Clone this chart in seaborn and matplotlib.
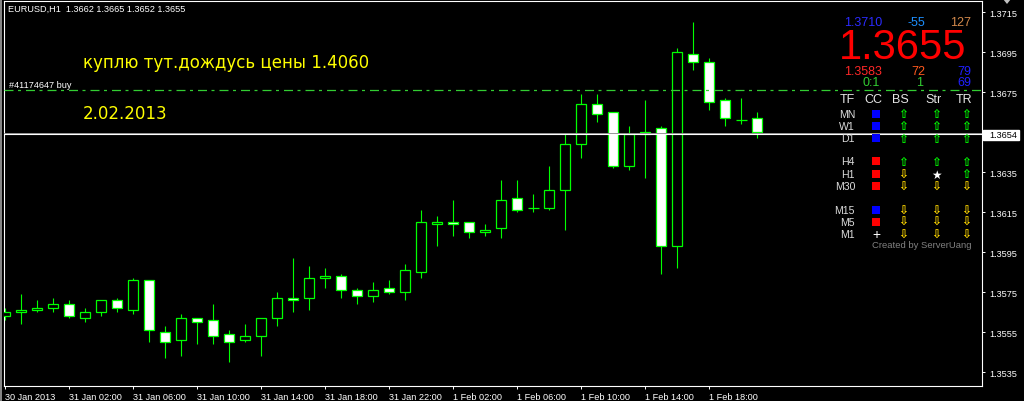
import numpy as np
import pandas as pd
import matplotlib.pyplot as plt
import seaborn as sns
from matplotlib.patches import Rectangle, Polygon

W, H = 1024, 402

# EURUSD H1, бары с 30 Jan 22:00 по 1 Feb 21:00
opens  = [1.3563, 1.3565, 1.3566, 1.3567, 1.3569, 1.3562, 1.3565, 1.3571, 1.3566, 1.3581,
          1.3555, 1.3551, 1.3562, 1.3561, 1.3554, 1.3551, 1.3553, 1.3562, 1.3572, 1.3572,
          1.3582, 1.3583, 1.3576, 1.3573, 1.3577, 1.3575, 1.3585, 1.3609, 1.3610, 1.3610,
          1.3605, 1.3607, 1.3622, 1.3617, 1.3617, 1.3626, 1.3649, 1.3669, 1.3665, 1.3638,
          1.3654, 1.3657, 1.3598, 1.3694, 1.3690, 1.3671, 1.3661, 1.3662]
highs  = [1.3567, 1.3574, 1.3571, 1.3572, 1.3571, 1.3567, 1.3571, 1.3572, 1.3582, 1.3581,
          1.3558, 1.3564, 1.3562, 1.3569, 1.3556, 1.3559, 1.3562, 1.3575, 1.3592, 1.3588,
          1.3587, 1.3584, 1.3577, 1.3580, 1.3581, 1.3589, 1.3616, 1.3613, 1.3621, 1.3610,
          1.3609, 1.3631, 1.3631, 1.3624, 1.3638, 1.3654, 1.3674, 1.3674, 1.3665, 1.3658,
          1.3671, 1.3658, 1.3697, 1.3710, 1.3692, 1.3672, 1.3672, 1.3665]
lows   = [1.3561, 1.3559, 1.3565, 1.3565, 1.3562, 1.3560, 1.3563, 1.3565, 1.3564, 1.3550,
          1.3542, 1.3543, 1.3549, 1.3549, 1.3540, 1.3550, 1.3543, 1.3558, 1.3565, 1.3566,
          1.3577, 1.3572, 1.3569, 1.3570, 1.3574, 1.3571, 1.3582, 1.3598, 1.3603, 1.3602,
          1.3603, 1.3602, 1.3615, 1.3615, 1.3616, 1.3606, 1.3642, 1.3660, 1.3637, 1.3636,
          1.3632, 1.3584, 1.3587, 1.3686, 1.3666, 1.3658, 1.3659, 1.3652]
closes = [1.3565, 1.3566, 1.3567, 1.3569, 1.3563, 1.3565, 1.3571, 1.3567, 1.3581, 1.3556,
          1.3550, 1.3562, 1.3560, 1.3553, 1.3550, 1.3553, 1.3562, 1.3572, 1.3571, 1.3582,
          1.3583, 1.3576, 1.3573, 1.3576, 1.3575, 1.3586, 1.3610, 1.3610, 1.3609, 1.3605,
          1.3606, 1.3621, 1.3616, 1.3617, 1.3626, 1.3649, 1.3669, 1.3664, 1.3638, 1.3654,
          1.3655, 1.3598, 1.3695, 1.3690, 1.3670, 1.3662, 1.3661, 1.3655]

time_labels = ["30 Jan 2013", "31 Jan 02:00", "31 Jan 06:00", "31 Jan 10:00",
               "31 Jan 14:00", "31 Jan 18:00", "31 Jan 22:00", "1 Feb 02:00",
               "1 Feb 06:00", "1 Feb 10:00", "1 Feb 14:00", "1 Feb 18:00"]
price_ticks = [1.3535, 1.3555, 1.3575, 1.3595, 1.3615, 1.3635, 1.3675, 1.3695, 1.3715]
order_price = 1.36763
bid_price = 1.36542

# панель индикатора
tf_names  = ["MN", "W1", "D1", "H4", "H1", "M30", "M15", "M5", "M1"]
cc_state  = ["blue", "blue", "blue", "red", "red", "red", "blue", "red", "flat"]
bs_state  = ["up", "up", "up", "up", "down", "down", "down", "down", "down"]
str_state = ["up", "up", "up", "up", "star", "down", "down", "down", "down"]
tr_state  = ["up", "up", "up", "up", "up", "down", "down", "down", "down"]

GREEN = "#00FF00"
YELLOW = "#FFFF00"

sns.set_theme(style="dark", rc={"axes.facecolor": "black", "figure.facecolor": "black",
                                "axes.edgecolor": "white", "xtick.color": "white",
                                "ytick.color": "white", "axes.grid": False})
plt.rcParams["font.family"] = ["Liberation Sans", "DejaVu Sans"]

df = pd.DataFrame({"o": opens, "h": highs, "l": lows, "c": closes})
df["x"] = np.arange(len(df))
df["bear"] = df["c"] < df["o"]

fig = plt.figure(figsize=(W / 100, H / 100), dpi=100)
ax = fig.add_axes([4 / W, 1 - 387 / H, 978 / W, 385 / H])
ax.set_facecolor("black")

# свечи
ax.vlines(df["x"], df["l"], df["h"], color=GREEN, lw=0.8, zorder=2)
body = df[df["o"] != df["c"]]
ax.bar(body["x"], (body["c"] - body["o"]).abs(), bottom=body[["o", "c"]].min(axis=1),
       width=0.62, color=np.where(body["bear"], "white", "black"),
       edgecolor=GREEN, lw=0.9, zorder=3)
doji = df[df["o"] == df["c"]]
ax.hlines(doji["o"], doji["x"] - 0.33, doji["x"] + 0.33, color=GREEN, lw=0.9, zorder=3)

# линии ордера и bid
ax.axhline(order_price, color="#32CD32", lw=0.9, dashes=(7.2, 3.6, 2.4, 4.0), zorder=4)
ax.axhline(bid_price + 0.00005, color="#909090", lw=0.7, zorder=4)
ax.axhline(bid_price, color="white", lw=0.8, zorder=4)

ax.set_xlim(-0.08, 61.04)
ax.set_ylim(1.35282, 1.37207)
for s in ax.spines.values():
    s.set_color("white")
    s.set_linewidth(0.8)

ax.yaxis.tick_right()
ax.set_yticks(price_ticks)
ax.set_yticklabels([f"{v:.4f}" for v in price_ticks])
ax.tick_params(axis="y", right=True, direction="out", length=2.5, width=0.7,
               pad=3, labelsize=6.6, labelcolor="white")
ax.set_xticks(df["x"][::4])
ax.set_xticklabels(time_labels, ha="left")
ax.tick_params(axis="x", bottom=True, direction="out", length=2.5, width=0.7,
               pad=1.5, labelsize=6.6, labelcolor="white")


def ftext(x, y, s, **kw):
    kw.setdefault("va", "center")
    kw.setdefault("color", "white")
    return fig.text(x / W, 1 - y / H, s, **kw)


def frect(x0, y0, x1, y1, **kw):
    fig.add_artist(Rectangle((x0 / W, 1 - y1 / H), (x1 - x0) / W, (y1 - y0) / H,
                             transform=fig.transFigure, **kw))


# подписи на графике
ftext(8, 9.5, "EURUSD,H1  1.3662 1.3665 1.3652 1.3655", fontsize=6.6)
ftext(9, 85.5, "#41174647 buy", fontsize=6.6)
ftext(83, 63, "куплю тут.дождусь цены 1.4060", fontsize=12, color=YELLOW,
      family=["DejaVu Sans"])
ftext(83, 114, "2.02.2013", fontsize=12, color=YELLOW, family=["DejaVu Sans"])

# метка bid
frect(983, 130.5, 1018.5, 140.5, facecolor="white", edgecolor="white")
ftext(989, 135.5, f"{bid_price:.4f}", fontsize=6.6, color="black")

# индикатор
ftext(882, 23.5, "1.3710", fontsize=9, color="#2B2BFF", ha="right")
ftext(925, 23.5, "-55", fontsize=9, color="#1E90FF", ha="right")
ftext(971, 23.5, "127", fontsize=9, color="#D2894B", ha="right")
ftext(903, 48, "1.3655", fontsize=30, color="#FF0000", ha="center")
ftext(882, 72, "1.3583", fontsize=9, color="#FF2828", ha="right")
ftext(925, 72, "72", fontsize=9, color="#FF5A1E", ha="right")
ftext(971, 72, "79", fontsize=9, color="#2020FF", ha="right")
ftext(880, 83.5, "0:1", fontsize=9, color="#32CD32", ha="right")
ftext(923, 83.5, "1", fontsize=9, color="#32CD32", ha="right")
ftext(971, 83.5, "69", fontsize=9, color="#2020FF", ha="right")

for x, s in zip([847, 873, 900, 933.5, 964], ["TF", "CC", "BS", "Str", "TR"]):
    ftext(x, 100, s, fontsize=9, color="#E6E6E6", ha="center")

row_y = [115, 127, 139.3, 162.3, 175, 187.3, 211, 222.7, 235]
arrow = {"up": ("⇧", GREEN), "down": ("⇩", "#FFD700"), "star": ("★", "white")}
for y, tf, cc, bs, st, tr in zip(row_y, tf_names, cc_state, bs_state, str_state, tr_state):
    ftext(855, y, tf, fontsize=7.6, color="#DCDCDC", ha="right")
    if cc == "flat":
        ftext(876, y, "+", fontsize=10, color="white", ha="center")
    else:
        frect(872, y - 4, 880, y + 4, facecolor="#0000FF" if cc == "blue" else "#FF0000", lw=0)
    for x, d in zip([903.5, 936, 966], [bs, st, tr]):
        ch, col = arrow[d]
        ftext(x, y, ch, fontsize=8.6 if d != "star" else 8.5, color=col, ha="center",
              family=["DejaVu Sans"], weight="bold")
ftext(872, 246, "Created by ServerUang", fontsize=6.8, color="#808080")

# рамка окна и маркер сдвига
fig.add_artist(plt.Line2D([1 / W, 1 / W], [0, 1], color="#A0A0A0", lw=1.2))
fig.add_artist(Polygon([[1003 / W, 1], [1011 / W, 1], [1007 / W, 1 - 5 / H]],
                       closed=True, facecolor="#C0C0C0", edgecolor="none",
                       transform=fig.transFigure))

fig.savefig("out.png", dpi=100, facecolor="black")
